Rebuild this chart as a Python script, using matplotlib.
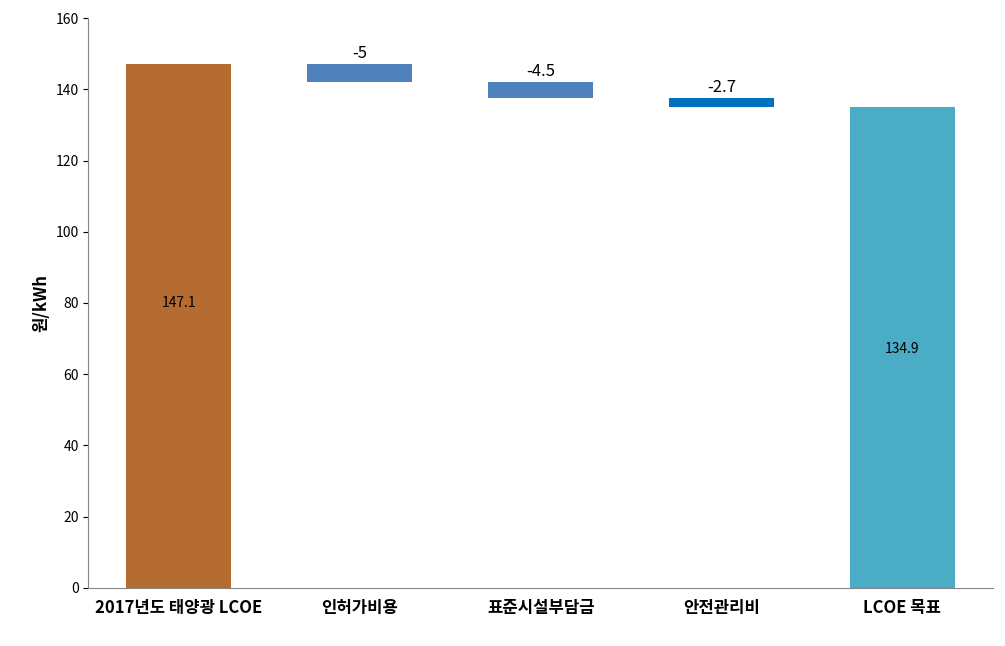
import matplotlib
matplotlib.use("Agg")
import matplotlib.pyplot as plt
import numpy as np

plt.rcParams['font.family'] = ['Noto Sans CJK KR', 'DejaVu Sans']

categories = ["2017년도 태양광 LCOE", "인허가비용", "표준시설부담금", "안전관리비", "LCOE 목표"]
start_value = 147.1
changes = [-5, -4.5, -2.7]
end_value = 134.9
colors = ["#B46C30", "#4F81BD", "#4F81BD", "#0070C0", "#4BACC6"]

bottoms = [0]
heights = [start_value]
level = start_value
for c in changes:
    bottoms.append(level + c)
    heights.append(-c)
    level += c
bottoms.append(0)
heights.append(end_value)

fig = plt.figure(figsize=(10.05, 6.46), dpi=100)
ax = fig.add_axes([0.088, 0.09, 0.9, 0.882])
x = np.arange(len(categories))
ax.bar(x, heights, bottom=bottoms, width=0.58, color=colors)

ax.text(x[0], 80, f"{start_value}", ha="center", va="center", fontsize=10)
ax.text(x[-1], 67, f"{end_value}", ha="center", va="center", fontsize=10)
for i, c in enumerate(changes, start=1):
    ax.text(x[i], bottoms[i] + heights[i] + 0.6, f"{c:g}", ha="center", va="bottom", fontsize=12)

ax.set_ylim(0, 160)
ax.set_xlim(-0.5, 4.5)
ax.set_yticks(range(0, 161, 20))
ax.set_xticks(x)
ax.set_xticklabels(categories, fontsize=12, fontweight="bold")
ax.tick_params(axis="y", labelsize=10)
ax.tick_params(axis="x", length=0, pad=8)
ax.set_ylabel("원/kWh", fontsize=12, fontweight="bold")
for s in ["top", "right"]:
    ax.spines[s].set_visible(False)
ax.spines["left"].set_color("#868686")
ax.spines["bottom"].set_color("#868686")

fig.savefig("out.png", dpi=100)
